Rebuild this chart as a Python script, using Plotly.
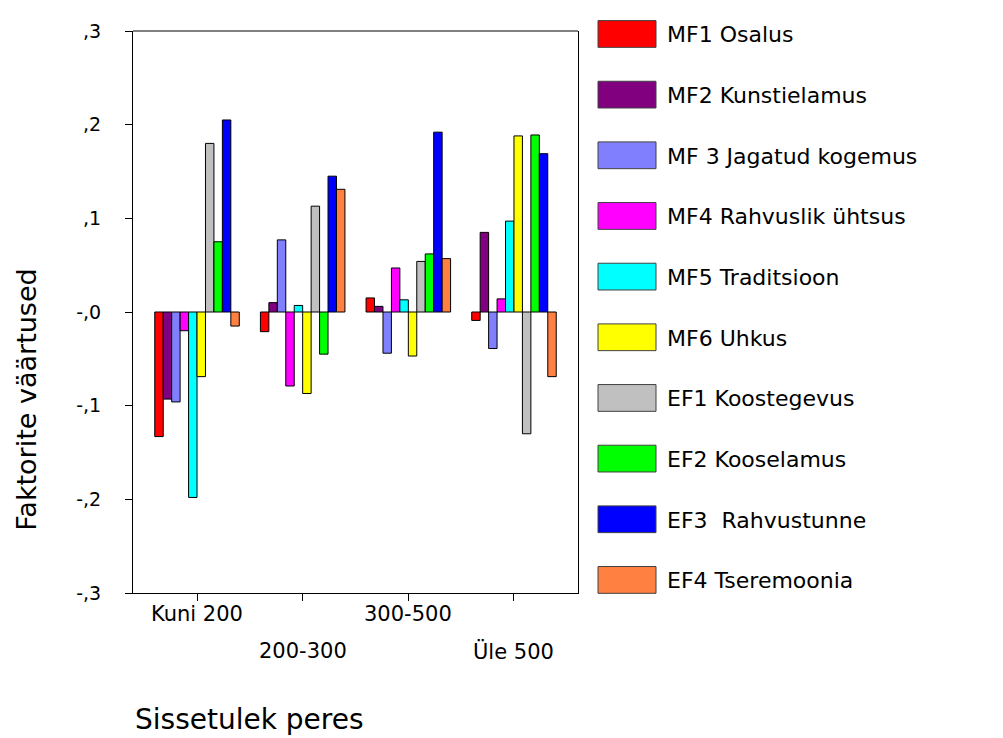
import plotly.graph_objects as go

categories = ["Kuni 200", "200-300", "300-500", "Üle 500"]

series_names = [
    "MF1 Osalus",
    "MF2 Kunstielamus",
    "MF 3 Jagatud kogemus",
    "MF4 Rahvuslik ühtsus",
    "MF5 Traditsioon",
    "MF6 Uhkus",
    "EF1 Koostegevus",
    "EF2 Kooselamus",
    "EF3  Rahvustunne",
    "EF4 Tseremoonia",
]
series_colors = [
    "#FF0000", "#800080", "#8080FF", "#FF00FF", "#00FFFF",
    "#FFFF00", "#C0C0C0", "#00FF00", "#0000FF", "#FF8040",
]

mf1 = [-0.133, -0.021, 0.015, -0.009]
mf2 = [-0.093, 0.010, 0.006, 0.085]
mf3 = [-0.096, 0.077, -0.044, -0.039]
mf4 = [-0.020, -0.079, 0.047, 0.014]
mf5 = [-0.198, 0.007, 0.013, 0.097]
mf6 = [-0.069, -0.087, -0.047, 0.188]
ef1 = [0.180, 0.113, 0.054, -0.130]
ef2 = [0.075, -0.045, 0.062, 0.189]
ef3 = [0.205, 0.145, 0.192, 0.169]
ef4 = [-0.015, 0.131, 0.057, -0.069]
series_values = [mf1, mf2, mf3, mf4, mf5, mf6, ef1, ef2, ef3, ef4]

y_ticks = [0.3, 0.2, 0.1, 0.0, -0.1, -0.2, -0.3]
y_tick_text = [",3", ",2", ",1", "-,0", "-,1", "-,2", "-,3"]

FONT = "DejaVu Sans, Arial"
W, H = 1003, 738
# page body adds an 8px margin, so positions below are shifted by it
L, R, T, B = 125, 570, 18, 585


def px(x):
    return (x - L) / (R - L)


def py(y):
    return (B - y) / (B - T)


xs = list(range(len(categories)))

fig = go.Figure()
for name, vals, col in zip(series_names, series_values, series_colors):
    fig.add_trace(go.Bar(
        x=xs, y=vals, name=name,
        marker=dict(color=col, line=dict(color="#000000", width=1)),
        showlegend=False,
    ))

fig.update_layout(
    width=W, height=H,
    margin=dict(l=L, r=W - R, t=T, b=H - B),
    paper_bgcolor="white", plot_bgcolor="white",
    barmode="group", bargap=0.2, bargroupgap=0,
    font=dict(family=FONT, color="black"),
)
fig.update_xaxes(
    range=[-0.606, 3.606], tickvals=xs, showticklabels=False,
    showline=True, linecolor="black", linewidth=1, showgrid=False, zeroline=False,
    ticks="outside", ticklen=7, tickcolor="black",
)
fig.update_yaxes(
    range=[-0.3, 0.3], tickvals=y_ticks, ticktext=y_tick_text,
    showline=True, linecolor="black", linewidth=1, showgrid=False, zeroline=False,
    ticks="outside", ticklen=7, tickcolor="black", tickfont=dict(size=19),
    ticklabelstandoff=20, mirror=True,
)
# top frame line in grey
fig.add_shape(type="line", xref="paper", yref="paper", x0=0, x1=1, y0=1, y1=1,
              line=dict(color="#808080", width=2))

# staggered category labels
for i, cat in enumerate(categories):
    fig.add_annotation(text=cat, xref="x", yref="paper", x=i,
                       y=py(606 if i % 2 == 0 else 644), showarrow=False,
                       font=dict(size=21), xanchor="center", yanchor="middle")

# axis titles
fig.add_annotation(text="Sissetulek peres", xref="paper", yref="paper",
                   x=px(125), y=py(713), showarrow=False,
                   font=dict(size=28), xanchor="left", yanchor="middle")
fig.add_annotation(text="Faktorite väärtused", xref="paper", yref="paper",
                   x=px(19), y=py(390), showarrow=False,
                   font=dict(size=27), textangle=-90, xanchor="center", yanchor="middle")

# legend drawn manually
for i, (name, col) in enumerate(zip(series_names, series_colors)):
    cy = 21 + i * 61.2
    fig.add_shape(type="rect", xref="paper", yref="paper",
                  x0=px(590), x1=px(648), y0=py(cy - 13.5), y1=py(cy + 13.5),
                  fillcolor=col, line=dict(color="#404040", width=1))
    fig.add_annotation(text=name, xref="paper", yref="paper",
                       x=px(657), y=py(cy + 1), showarrow=False,
                       font=dict(size=22), xanchor="left", yanchor="middle")

fig.write_html("out.html")
